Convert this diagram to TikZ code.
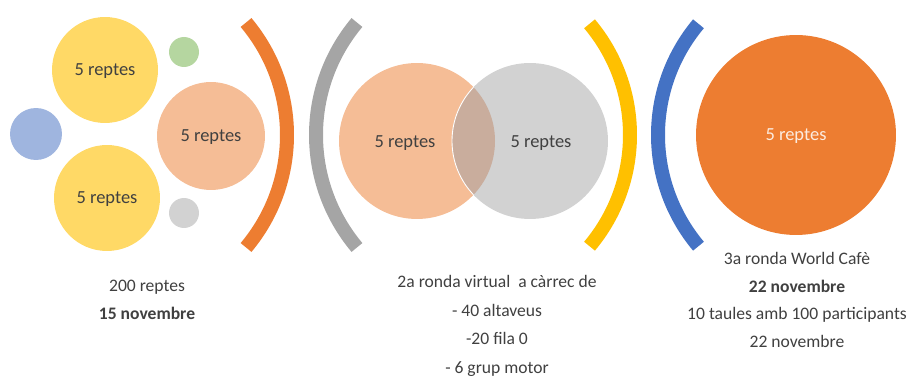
\documentclass[tikz,border=0pt]{standalone}
\usepackage{fontspec}
\setmainfont{Carlito}
\definecolor{ylw}{HTML}{FFD966}
\definecolor{salmon}{HTML}{F5BD96}
\definecolor{ltblue}{HTML}{9FB5DF}
\definecolor{ltgreen}{HTML}{B5D6A0}
\definecolor{ltgray}{HTML}{D2D2D2}
\definecolor{lens}{HTML}{C9AD9D}
\definecolor{orng}{HTML}{ED7D31}
\definecolor{midgray}{HTML}{A5A5A5}
\definecolor{gold}{HTML}{FFC000}
\definecolor{royal}{HTML}{4472C4}
\definecolor{txt}{HTML}{404040}
\begin{document}
\begin{tikzpicture}[x=0.02cm,y=-0.02cm,
  bubble/.style={circle,inner sep=0pt,text=txt,text depth=0pt,font=\fontsize{10.5}{12}\selectfont},
  dot/.style={circle,inner sep=0pt},
  paren/.style={line width=0.28cm},
  caption/.style={align=center,text=txt,font=\fontsize{10}{15.6}\selectfont}]
\useasboundingbox (0,0) rectangle (917,378);

\node[bubble,fill=ylw,minimum size=2.12cm] (top) at (105,70) {5 reptes};
\node[bubble,fill=ylw,minimum size=2.12cm] (bottom) at (107,198) {5 reptes};
\node[bubble,fill=salmon,minimum size=2.16cm] (mid) at (211,136) {5 reptes};
\node[dot,fill=ltblue,minimum size=1.04cm] (b) at (36,134) {};
\node[dot,fill=ltgreen,minimum size=0.6cm] (g) at (184,52) {};
\node[dot,fill=ltgray,minimum size=0.6cm] (s) at (184,213) {};

\draw[paren,draw=orng] (112,135) ++(-40:175) arc[start angle=-40,end angle=40,radius=175];
\draw[paren,draw=midgray] (491,135) ++(140:175) arc[start angle=140,end angle=220,radius=175];
\draw[paren,draw=gold] (457,135) ++(-40:173) arc[start angle=-40,end angle=40,radius=173];
\draw[paren,draw=royal] (831,135) ++(140:173) arc[start angle=140,end angle=220,radius=173];

\node[bubble,fill=salmon,minimum size=3.12cm] (left) at (417,141) {};
\node[bubble,fill=ltgray,minimum size=3.12cm] (right) at (530,141) {};
\begin{scope}
\clip (417,141) circle[radius=78];
\fill[lens] (530,141) circle[radius=78];
\draw[white,line width=0.5pt] (530,141) circle[radius=78];
\end{scope}
\node[bubble] at (405,142) {5 reptes};
\node[bubble] at (541,142) {5 reptes};

\node[bubble,fill=orng,minimum size=4cm,text=orng!15] (cafe) at (796,135) {5 reptes};

\node[caption] (c1) at (147,300) {200 reptes\\\textbf{15 novembre}};
\node[caption,font=\fontsize{10}{16.4}\selectfont] (c2) at (497,326) {2a ronda virtual\ \ a càrrec de\\- 40 altaveus\\-20 fila 0\\- 6 grup motor};
\node[caption] (c3) at (797,300) {3a ronda World Cafè\\\textbf{22 novembre}\\10 taules amb 100 participants\\22 novembre};
\end{tikzpicture}
\end{document}
